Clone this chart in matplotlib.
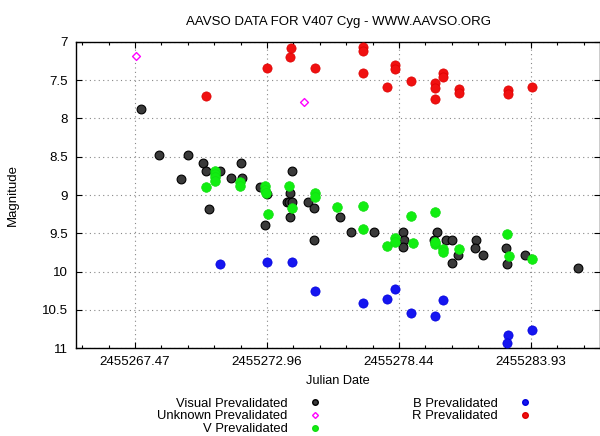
import numpy as np
import matplotlib
matplotlib.use('Agg')
import matplotlib.pyplot as plt
from matplotlib.lines import Line2D

plt.rcParams['font.family'] = ['Liberation Sans', 'DejaVu Sans']

# Julian dates / magnitudes
visual_jd = [2455267.71, 2455268.47, 2455269.37, 2455269.69, 2455270.31, 2455270.42, 2455270.55,
             2455271.01, 2455271.48, 2455271.88, 2455271.91, 2455272.68, 2455272.94, 2455272.88,
             2455273.78, 2455273.88, 2455273.99, 2455274.01, 2455273.92, 2455273.92, 2455274.68,
             2455274.92, 2455274.92, 2455276.00, 2455276.44, 2455277.42, 2455278.61, 2455278.64,
             2455278.61, 2455279.92, 2455280.02, 2455280.40, 2455280.64, 2455280.66, 2455280.89,
             2455281.64, 2455281.63, 2455281.96, 2455282.89, 2455282.93, 2455283.71, 2455285.89]
visual_mag = [7.88, 8.48, 8.79, 8.48, 8.58, 8.68, 9.18,
              8.68, 8.78, 8.58, 8.78, 8.89, 8.99, 9.39,
              9.09, 9.09, 9.09, 8.68, 8.98, 9.29, 9.09,
              9.17, 9.59, 9.29, 9.49, 9.49, 9.49, 9.59,
              9.68, 9.59, 9.49, 9.59, 9.59, 9.89, 9.79,
              9.59, 9.69, 9.79, 9.69, 9.90, 9.79, 9.95]

unknown_jd = [2455267.51, 2455274.50]
unknown_mag = [7.18, 7.78]

v_jd = [2455270.42, 2455270.81, 2455270.81, 2455270.81, 2455270.81, 2455271.84, 2455271.84,
        2455272.88, 2455272.88, 2455272.90, 2455273.00, 2455273.89, 2455274.00, 2455274.97,
        2455274.97, 2455275.86, 2455276.97, 2455276.94, 2455277.97, 2455278.29, 2455278.29,
        2455278.94, 2455279.03, 2455279.96, 2455279.96, 2455279.94, 2455280.30, 2455280.30,
        2455280.93, 2455282.96, 2455283.04, 2455283.98]
v_mag = [8.89, 8.68, 8.72, 8.77, 8.82, 8.83, 8.88,
         8.88, 8.93, 8.97, 9.25, 8.88, 9.17, 8.98,
         9.02, 9.16, 9.14, 9.44, 9.67, 9.56, 9.61,
         9.27, 9.63, 9.22, 9.64, 9.61, 9.70, 9.75,
         9.70, 9.51, 9.80, 9.83]

b_jd = [2455270.99, 2455272.97, 2455273.99, 2455274.97, 2455276.94, 2455277.97, 2455278.29,
        2455278.94, 2455279.96, 2455280.30, 2455283.00, 2455282.96, 2455283.98]
b_mag = [9.90, 9.88, 9.88, 10.25, 10.41, 10.36, 10.23,
         10.54, 10.58, 10.37, 10.83, 10.94, 10.76]

r_jd = [2455270.42, 2455272.97, 2455273.92, 2455273.96, 2455274.97, 2455276.94, 2455276.94,
        2455276.97, 2455277.97, 2455278.29, 2455278.29, 2455278.94, 2455279.96, 2455279.96,
        2455279.96, 2455280.30, 2455280.30, 2455280.93, 2455280.93, 2455283.00, 2455283.00,
        2455283.98]
r_mag = [7.71, 7.34, 7.19, 7.08, 7.34, 7.06, 7.12,
         7.41, 7.59, 7.30, 7.35, 7.51, 7.53, 7.60,
         7.74, 7.40, 7.46, 7.62, 7.67, 7.63, 7.68,
         7.59]

x_ticks = [2455267.47, 2455272.96, 2455278.44, 2455283.93]
x_tick_labels = ['2455267.47', '2455272.96', '2455278.44', '2455283.93']
y_ticks = [7, 7.5, 8, 8.5, 9, 9.5, 10, 10.5, 11]
y_tick_labels = ['7', '7.5', '8', '8.5', '9', '9.5', '10', '10.5', '11']

fig = plt.figure(figsize=(6, 4.36), dpi=100)
ax = fig.add_axes([0.1267, 0.2018, 0.8733, 0.7019])

ax.scatter(visual_jd, visual_mag, s=40, facecolor='#3a3a3a', edgecolor='black', linewidth=0.8, zorder=3)
ax.scatter(unknown_jd, unknown_mag, s=16, marker='D', facecolor='white', edgecolor='#ff00ff', linewidth=1, zorder=3)
ax.scatter(v_jd, v_mag, s=48, facecolor='#11ee11', edgecolor='#11dd11', linewidth=0.5, zorder=3)
ax.scatter(b_jd, b_mag, s=44, facecolor='#1515f0', edgecolor='#0000dd', linewidth=0.5, zorder=3)
ax.scatter(r_jd, r_mag, s=44, facecolor='#f01010', edgecolor='#dd0000', linewidth=0.5, zorder=3)

ax.set_xticks(x_ticks)
ax.set_xticklabels(x_tick_labels)
minor = []
step = (x_ticks[1] - x_ticks[0]) / 5
for k in range(-2, 18):
    minor.append(x_ticks[0] + k * step)
ax.set_xticks(minor, minor=True)
ax.set_yticks(y_ticks)
ax.set_yticklabels(y_tick_labels)
ax.set_xlim(2455265.016, 2455286.81)
ax.set_ylim(11, 7)

ax.tick_params(direction='in', top=True, right=True, length=4, width=0.8, labelsize=9.6, colors='black')
ax.tick_params(which='minor', direction='in', top=True, length=2.5, width=0.8)
ax.tick_params(axis='x', pad=6)
ax.tick_params(axis='y', pad=6)
ax.grid(True, which='major', linestyle=(0, (1, 3)), color='#888888', linewidth=0.8)
for s in ax.spines.values():
    s.set_linewidth(1.0)

ax.set_title('AAVSO DATA FOR V407 Cyg - WWW.AAVSO.ORG', fontsize=9.5, pad=12)
ax.set_xlabel('Julian Date', fontsize=9.2, labelpad=5)
ax.set_ylabel('Magnitude', fontsize=9.5, labelpad=16)

handles = [
    Line2D([], [], ls='', marker='o', markersize=4, markerfacecolor='#3a3a3a', markeredgecolor='black'),
    Line2D([], [], ls='', marker='D', markersize=3, markerfacecolor='white', markeredgecolor='#ff00ff'),
    Line2D([], [], ls='', marker='o', markersize=4, markerfacecolor='#11ee11', markeredgecolor='#11dd11'),
    Line2D([], [], ls='', marker='o', markersize=4, markerfacecolor='#1515f0', markeredgecolor='#0000dd'),
    Line2D([], [], ls='', marker='o', markersize=4, markerfacecolor='#f01010', markeredgecolor='#dd0000'),
]
labels = ['Visual Prevalidated', 'Unknown Prevalidated', 'V Prevalidated', 'B Prevalidated', 'R Prevalidated']
fig.legend(handles, labels, ncol=2, markerfirst=False, frameon=False, fontsize=9.4,
           loc='upper center', bbox_to_anchor=(0.574, 0.103), handlelength=1.0,
           handletextpad=1.6, columnspacing=6.9, labelspacing=0.04, borderpad=0)

fig.savefig('out.png', dpi=100)
